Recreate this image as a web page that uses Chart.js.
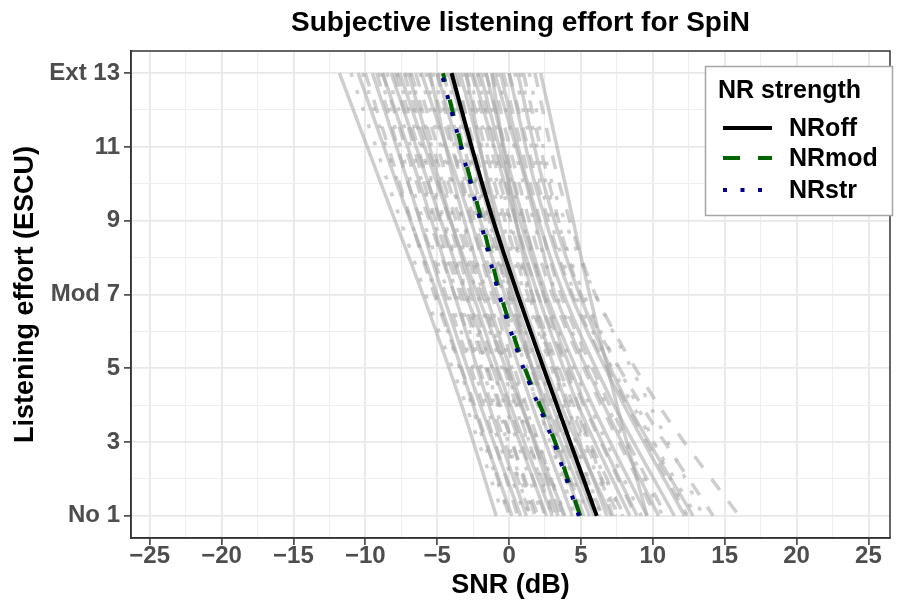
<!DOCTYPE html>
<html>
<head>
<meta charset="utf-8">
<script src="https://cdn.jsdelivr.net/npm/chart.js@4.4.1/dist/chart.umd.min.js"></script>
<style>
  html, body { margin: 0; padding: 0; background: #fff; }
</style>
</head>
<body>
<canvas id="grafico" width="899" height="603"></canvas>
<script>
// eixos
const snrTicks = [-25, -20, -15, -10, -5, 0, 5, 10, 15, 20, 25];
const esforcoTicks = [1, 3, 5, 7, 9, 11, 13];
const esforcoLabels = ['No 1', '3', '5', 'Mod 7', '9', '11', 'Ext 13'];

// curvas medias (SNR em cada nivel de esforco 1,3,...,13)
const nrOff = [6.1, 4.25, 2.4, 0.6, -1.1, -2.6, -4.0];
const nrMod = [4.95, 3.2, 1.1, -0.6, -1.9, -3.3, -4.6];
const nrStr = [4.85, 3.1, 1.0, -0.7, -2.0, -3.35, -4.7];

// curvas individuais (SNR nos niveis 13,10,7,4,1)
const niveisInd = [13, 10, 7, 4, 1];
const indSolid = [
  [-11.8, -8.9, -6.0, -3.3, -0.9],
  [-9.5, -7.0, -4.6, -2.0, 0.8],
  [-8.2, -5.6, -3.0, -0.2, 2.6],
  [-7.0, -4.8, -2.5, 0.1, 3.0],
  [-6.1, -3.5, -1.0, 1.6, 4.4],
  [-5.0, -2.8, -0.3, 2.6, 5.6],
  [-3.4, -1.4, 0.8, 3.6, 7.1],
  [-2.5, -0.3, 2.0, 4.8, 8.4],
  [-1.6, 0.3, 2.6, 5.8, 9.6],
  [-0.6, 1.3, 3.8, 7.3, 11.5],
  [0.6, 2.4, 4.9, 8.3, 12.8],
  [2.2, 3.9, 5.6, 7.5, 9.6],
  [-10.5, -7.8, -5.0, -2.5, 0.2],
  [-4.2, -2.0, 0.3, 3.0, 5.9],
  [-1.0, 1.2, 3.2, 6.6, 10.4],
  [-7.6, -5.0, -2.2, 0.8, 3.9],
  [0.0, 1.8, 4.3, 8.0, 12.2],
  [-2.0, 0.0, 2.4, 5.3, 8.9],
  [-5.5, -3.8, -1.6, 0.9, 3.4],
  [-3.0, -1.5, 0.2, 2.4, 5.0],
  [-8.8, -6.2, -3.8, -1.4, 1.2],
  [-1.2, 0.0, 1.6, 4.0, 6.8]
];
const indDashed = [
  [-10.0, -7.6, -5.2, -2.4, 0.0],
  [-8.8, -6.4, -3.8, -1.2, 1.5],
  [-7.3, -4.9, -2.7, 0.0, 2.5],
  [-6.5, -4.2, -1.8, 0.8, 3.6],
  [-5.6, -3.2, -0.8, 2.0, 4.9],
  [-4.6, -2.4, 0.0, 2.8, 6.0],
  [-3.0, -1.0, 1.3, 4.2, 7.6],
  [-2.2, -0.2, 2.0, 5.2, 8.8],
  [-1.2, 0.7, 3.0, 6.4, 10.2],
  [0.0, 2.0, 4.4, 8.2, 12.4],
  [1.0, 2.8, 5.0, 9.2, 14.2],
  [1.8, 3.5, 6.0, 10.4, 16.0],
  [-9.2, -7.0, -4.4, -1.8, 0.6],
  [-3.8, -1.7, 0.6, 3.4, 6.5],
  [-6.8, -4.5, -2.0, 0.5, 3.2],
  [-0.4, 1.5, 3.6, 7.0, 10.9],
  [-2.6, -0.6, 1.6, 4.5, 8.0],
  [-8.0, -5.9, -3.4, -0.7, 2.0],
  [-5.0, -3.3, -1.2, 1.2, 3.8],
  [-3.6, -2.0, 0.0, 2.4, 5.2],
  [-7.8, -5.6, -3.2, -0.6, 1.8],
  [-1.6, 0.4, 2.4, 4.8, 7.2]
];
const indDotted = [
  [-11.0, -8.4, -5.8, -3.0, -0.4],
  [-9.0, -6.8, -4.2, -1.6, 1.1],
  [-7.8, -5.3, -2.9, -0.3, 2.3],
  [-6.2, -4.0, -1.5, 1.1, 3.9],
  [-5.3, -3.0, -0.5, 2.2, 5.2],
  [-4.4, -2.2, 0.2, 3.1, 6.3],
  [-3.2, -1.2, 1.1, 4.0, 7.4],
  [-1.8, 0.2, 2.5, 5.6, 9.2],
  [-0.8, 1.0, 3.3, 6.8, 10.7],
  [0.4, 2.2, 4.6, 8.6, 13.0],
  [1.4, 3.0, 6.0, 9.8, 13.5],
  [-10.2, -7.7, -5.1, -2.6, 0.0],
  [-2.8, -0.8, 1.5, 4.4, 7.9],
  [-6.9, -4.6, -2.2, 0.4, 3.1],
  [0.8, 2.6, 5.2, 8.9, 12.4],
  [-4.9, -2.6, -0.1, 2.5, 5.5],
  [-8.5, -6.0, -3.6, -1.0, 1.7],
  [-5.8, -3.9, -1.8, 0.6, 3.0],
  [-3.9, -2.3, -0.4, 2.0, 4.6],
  [-7.2, -5.4, -3.0, -0.8, 1.4],
  [-2.2, -0.5, 1.4, 3.8, 6.4]
];

const fonte = '"Liberation Sans", Arial, Helvetica, sans-serif';
const cinzaLinha = 'rgba(165, 165, 165, 0.55)';
const verde = '#006400';
const azul = '#00008b';

function pontos(xs, ys) {
  return xs.map((x, i) => ({ x: x, y: ys[i] }));
}

const datasets = [];
datasets.push({ label: 'NRstr', data: pontos(nrStr, esforcoTicks), borderColor: azul,
  borderWidth: 4, borderDash: [4, 13.5], tension: 0.2, pointRadius: 0, order: 0 });
datasets.push({ label: 'NRmod', data: pontos(nrMod, esforcoTicks), borderColor: verde,
  borderWidth: 4, borderDash: [17, 18], tension: 0.2, pointRadius: 0, order: 1 });
datasets.push({ label: 'NRoff', data: pontos(nrOff, esforcoTicks), borderColor: '#000000',
  borderWidth: 4, tension: 0.2, pointRadius: 0, order: 2 });

indSolid.forEach(l => datasets.push({ data: pontos(l, niveisInd), borderColor: cinzaLinha,
  borderWidth: 3.5, tension: 0.3, pointRadius: 0, order: 5 }));
indDashed.forEach(l => datasets.push({ data: pontos(l, niveisInd), borderColor: cinzaLinha,
  borderWidth: 3.5, borderDash: [14, 14], tension: 0.3, pointRadius: 0, order: 5 }));
indDotted.forEach(l => datasets.push({ data: pontos(l, niveisInd), borderColor: cinzaLinha,
  borderWidth: 3.5, borderDash: [4, 14], tension: 0.3, pointRadius: 0, order: 5 }));

// titulo do grafico e moldura do painel
const moldura = {
  id: 'moldura',
  afterDatasetsDraw(chart) {
    const a = chart.chartArea;
    const ctx = chart.ctx;
    ctx.save();
    ctx.strokeStyle = '#333333';
    ctx.lineWidth = 1.5;
    ctx.strokeRect(a.left, a.top, a.right - a.left, a.bottom - a.top);
    ctx.restore();
  },
  afterDraw(chart) {
    const a = chart.chartArea;
    const ctx = chart.ctx;
    ctx.save();
    ctx.fillStyle = '#000';
    ctx.font = 'bold 28px ' + fonte;
    ctx.textAlign = 'center';
    ctx.textBaseline = 'middle';
    ctx.fillText('Subjective listening effort for SpiN', (a.left + a.right) / 2 + 10, 23);
    ctx.restore();
  }
};

// legenda
const legenda = {
  id: 'legenda',
  afterDraw(chart) {
    const ctx = chart.ctx;
    ctx.save();
    ctx.fillStyle = '#fff';
    ctx.fillRect(705, 66, 187, 149);
    ctx.strokeStyle = '#a6a6a6';
    ctx.lineWidth = 1.5;
    ctx.strokeRect(705.5, 66.5, 187, 149);
    ctx.fillStyle = '#000';
    ctx.font = 'bold 25px ' + fonte;
    ctx.textBaseline = 'alphabetic';
    ctx.fillText('NR strength', 718, 98);
    const itens = [
      { txt: 'NRoff', cor: '#000000', dash: [], y: 128 },
      { txt: 'NRmod', cor: verde, dash: [17, 18], y: 158 },
      { txt: 'NRstr', cor: azul, dash: [4, 13.5], y: 190 }
    ];
    itens.forEach(it => {
      ctx.beginPath();
      ctx.setLineDash(it.dash);
      ctx.strokeStyle = it.cor;
      ctx.lineWidth = 4;
      ctx.moveTo(723, it.y);
      ctx.lineTo(772, it.y);
      ctx.stroke();
      ctx.setLineDash([]);
      ctx.textBaseline = 'middle';
      ctx.fillText(it.txt, 789, it.y + 1);
    });
    ctx.restore();
  }
};

new Chart(document.getElementById('grafico'), {
  type: 'line',
  data: { datasets: datasets },
  options: {
    responsive: false,
    animation: false,
    devicePixelRatio: 1,
    layout: { padding: { top: 51, right: 9, left: 0, bottom: 0 } },
    plugins: {
      legend: { display: false },
      tooltip: { enabled: false }
    },
    scales: {
      x: {
        type: 'linear',
        min: -26.3,
        max: 26.5,
        afterFit: s => { s.height = 65; },
        border: { display: true, color: '#333', width: 1.5 },
        grid: {
          color: c => snrTicks.includes(c.tick.value) ? '#e8e8e8' : '#eeeeee',
          lineWidth: c => snrTicks.includes(c.tick.value) ? 1.8 : 1.1,
          tickColor: c => snrTicks.includes(c.tick.value) ? '#333' : 'rgba(0,0,0,0)',
          tickWidth: 1.5,
          tickLength: 7,
          drawTicks: true
        },
        ticks: {
          stepSize: 2.5,
          includeBounds: false,
          autoSkip: false,
          maxRotation: 0,
          padding: -3,
          color: '#4d4d4d',
          font: { family: fonte, size: 24, weight: 'bold' },
          callback: v => snrTicks.includes(v) ? String(v).replace('-', '\u2212') : ''
        },
        title: {
          display: true,
          text: 'SNR (dB)',
          color: '#000',
          font: { family: fonte, size: 27, weight: 'bold' },
          padding: { top: 0, bottom: 1 }
        }
      },
      y: {
        type: 'linear',
        min: 0.4,
        max: 13.6,
        afterFit: s => { s.width = 131; },
        border: { display: true, color: '#333', width: 1.5 },
        grid: {
          color: c => esforcoTicks.includes(c.tick.value) ? '#e8e8e8' : '#eeeeee',
          lineWidth: c => esforcoTicks.includes(c.tick.value) ? 1.8 : 1.1,
          tickColor: c => esforcoTicks.includes(c.tick.value) ? '#333' : 'rgba(0,0,0,0)',
          tickWidth: 1.5,
          tickLength: 7,
          drawTicks: true
        },
        ticks: {
          stepSize: 1,
          includeBounds: false,
          autoSkip: false,
          padding: 4,
          color: '#4d4d4d',
          font: { family: fonte, size: 24, weight: 'bold' },
          callback: v => {
            const i = esforcoTicks.indexOf(v);
            return i >= 0 ? esforcoLabels[i] : '';
          }
        },
        title: {
          display: true,
          text: 'Listening effort (ESCU)',
          color: '#000',
          font: { family: fonte, size: 27, weight: 'bold' },
          padding: { top: 9, bottom: 0 }
        }
      }
    }
  },
  plugins: [moldura, legenda]
});
</script>
</body>
</html>
